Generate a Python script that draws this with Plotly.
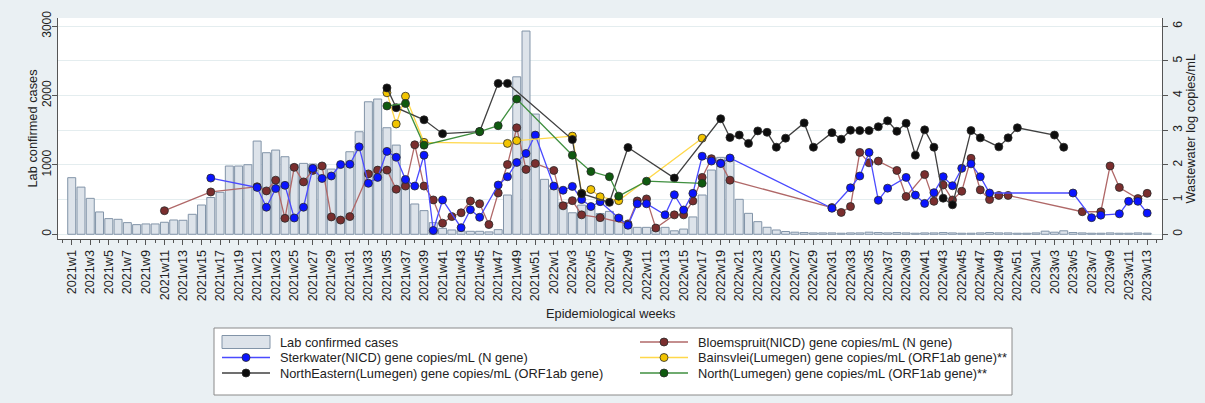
import plotly.graph_objects as go

# epidemiological weeks on the x axis
weeks = []
for year, n in ((2021, 52), (2022, 52), (2023, 13)):
    weeks += [f"{year}w{w}" for w in range(1, n + 1)]

# lab confirmed cases per week (bars, left axis)
cases = [816, 680, 518, 322, 226, 216, 168, 139, 149, 149,
         173, 206, 202, 288, 422, 530, 605, 984, 984, 1003,
         1344, 1176, 1214, 1118, 1000, 1022, 1013, 1010, 940, 975,
         1190, 1478, 1910, 1950, 1536, 1286, 800, 437, 341, 168,
         86, 62, 48, 43, 43, 34, 67, 566, 2270, 2930,
         1733, 792, 648, 460, 310, 420, 420, 300, 330, 270,
         140, 100, 100, 60, 100, 50, 75, 250, 566, 926,
         1109, 1118, 504, 302, 182, 101, 62, 40, 30, 25,
         20, 20, 20, 15, 20, 20, 30, 25, 20, 25,
         20, 15, 20, 20, 25, 20, 15, 15, 20, 25,
         20, 20, 15, 15, 20, 45, 30, 50, 25, 20,
         15, 15, 20, 15, 15, 20, 15]

# wastewater series (right axis, log copies/mL)
bloem_weeks = ["2021w11", "2021w16", "2021w21", "2021w22", "2021w23", "2021w24", "2021w25",
               "2021w26", "2021w27", "2021w28", "2021w29", "2021w30", "2021w31", "2021w33",
               "2021w34", "2021w35", "2021w36", "2021w37", "2021w38", "2021w39", "2021w40",
               "2021w41", "2021w42", "2021w43", "2021w44", "2021w45", "2021w46", "2021w47",
               "2021w48", "2021w49", "2021w50", "2021w51", "2022w1", "2022w2", "2022w3",
               "2022w4", "2022w6", "2022w9", "2022w10", "2022w11", "2022w12", "2022w14",
               "2022w15", "2022w16", "2022w17", "2022w18", "2022w19", "2022w20", "2022w31",
               "2022w32", "2022w33", "2022w34", "2022w35", "2022w36", "2022w38", "2022w39",
               "2022w41", "2022w42", "2022w43", "2022w44", "2022w45", "2022w46", "2022w47",
               "2022w48", "2022w49", "2022w50", "2023w6", "2023w8", "2023w9", "2023w10",
               "2023w12", "2023w13"]
bloem_vals = [0.68, 1.22, 1.37, 1.25, 1.56, 0.46, 1.93,
              1.51, 1.84, 1.97, 0.50, 0.41, 0.51, 1.74,
              1.85, 1.85, 1.30, 1.39, 2.58, 1.39, 0.99,
              0.32, 0.51, 0.62, 0.96, 0.88, 0.28, 1.19,
              2.01, 3.07, 1.87, 2.04, 1.84, 0.82, 0.97,
              0.56, 0.48, 0.30, 0.96, 1.02, 0.18, 0.56,
              0.56, 0.96, 1.64, 2.18, 2.05, 1.56, 0.77,
              0.63, 0.80, 2.36, 2.06, 2.11, 1.84, 1.09,
              1.72, 0.95, 1.42, 0.99, 1.24, 2.19, 1.28,
              1.00, 1.12, 1.12, 0.65, 0.65, 1.97, 1.35,
              1.03, 1.18]

sterk_weeks = ["2021w16", "2021w21", "2021w22", "2021w23", "2021w24", "2021w25", "2021w26",
               "2021w27", "2021w28", "2021w29", "2021w30", "2021w31", "2021w32", "2021w33",
               "2021w34", "2021w35", "2021w36", "2021w37", "2021w38", "2021w39", "2021w40",
               "2021w41", "2021w43", "2021w44", "2021w45", "2021w47", "2021w48", "2021w49",
               "2021w50", "2021w51", "2022w1", "2022w2", "2022w3", "2022w4", "2022w5",
               "2022w6", "2022w8", "2022w9", "2022w10", "2022w11", "2022w13", "2022w14",
               "2022w15", "2022w16", "2022w17", "2022w18", "2022w19", "2022w20", "2022w31",
               "2022w33", "2022w34", "2022w35", "2022w36", "2022w37", "2022w39", "2022w40",
               "2022w41", "2022w42", "2022w43", "2022w44", "2022w45", "2022w46", "2022w47",
               "2022w48", "2023w5", "2023w7", "2023w8", "2023w10", "2023w11", "2023w12",
               "2023w13"]
sterk_vals = [1.62, 1.35, 0.78, 1.32, 1.41, 0.47, 0.78,
              1.90, 1.61, 1.68, 2.01, 2.02, 2.52, 1.47,
              1.64, 2.39, 2.22, 1.58, 1.39, 2.28, 0.11,
              0.99, 0.19, 0.71, 0.49, 1.42, 1.66, 2.07,
              2.33, 2.86, 1.39, 1.27, 1.38, 1.00, 0.80,
              0.94, 0.47, 0.26, 0.88, 0.88, 0.56, 1.14,
              0.70, 1.18, 2.25, 2.11, 2.04, 2.20, 0.75,
              1.34, 1.68, 2.36, 0.98, 1.33, 1.64, 1.13,
              0.89, 1.20, 1.66, 1.40, 1.90, 2.03, 1.66,
              1.19, 1.19, 0.48, 0.55, 0.59, 0.95, 0.95,
              0.61]

bains_weeks = ["2021w35", "2021w36", "2021w37", "2021w39", "2021w48", "2021w49",
               "2022w3", "2022w4", "2022w5", "2022w6", "2022w8", "2022w17"]
bains_vals = [4.08, 3.18, 3.98, 2.65, 2.62, 2.70,
              2.83, 1.18, 1.29, 1.08, 0.97, 2.77]

ne_weeks = ["2021w35", "2021w36", "2021w39", "2021w41", "2021w45", "2021w47", "2021w48",
            "2022w3", "2022w4", "2022w7", "2022w9", "2022w14", "2022w19", "2022w20",
            "2022w21", "2022w22", "2022w23", "2022w24", "2022w25", "2022w26", "2022w28",
            "2022w29", "2022w31", "2022w32", "2022w33", "2022w34", "2022w35", "2022w36",
            "2022w37", "2022w38", "2022w39", "2022w40", "2022w41", "2022w42", "2022w43",
            "2022w44", "2022w46", "2022w47", "2022w49", "2022w50", "2022w51", "2023w3",
            "2023w4"]
ne_vals = [4.22, 3.65, 3.30, 2.90, 2.96, 4.35, 4.35,
           2.73, 1.17, 0.92, 2.50, 1.62, 3.33, 2.79,
           2.86, 2.62, 2.98, 2.94, 2.51, 2.77, 3.21,
           2.51, 2.93, 2.74, 3.00, 2.99, 2.99, 3.10,
           3.27, 2.97, 3.20, 2.28, 3.01, 2.51, 1.04,
           0.85, 2.99, 2.78, 2.52, 2.78, 3.07, 2.86,
           2.51]

north_weeks = ["2021w35", "2021w37", "2021w39", "2021w45", "2021w47", "2021w49",
               "2022w3", "2022w5", "2022w7", "2022w8", "2022w11", "2022w17"]
north_vals = [3.70, 3.77, 2.57, 2.96, 3.13, 3.90,
              2.28, 1.81, 1.66, 1.10, 1.53, 1.47]

pos = {w: i for i, w in enumerate(weeks)}
FONT = "Liberation Sans, Arial, sans-serif"
BAR_FILL, BAR_EDGE, MARKER_EDGE = "#dde3ea", "#8294a8", "#2a2a2a"

# name, weeks, values, line colour, marker colour  (drawing / legend order)
series = [
    ("Bloemspruit(NICD) gene copies/mL (N gene)", bloem_weeks, bloem_vals, "#b06868", "#7a2e2e"),
    ("Sterkwater(NICD) gene copies/mL (N gene)", sterk_weeks, sterk_vals, "#4a4aff", "#0a14ff"),
    ("Bainsvlei(Lumegen) gene copies/mL (ORF1ab gene)**", bains_weeks, bains_vals, "#ffd84a", "#f2c400"),
    ("NorthEastern(Lumegen) gene copies/mL (ORF1ab gene)", ne_weeks, ne_vals, "#404040", "#0d0d0d"),
    ("North(Lumegen) gene copies/mL (ORF1ab gene)**", north_weeks, north_vals, "#3f8f3f", "#0f5a0f"),
]

fig = go.Figure()
fig.add_trace(go.Bar(
    x=list(range(len(weeks))), y=cases, name="Lab confirmed cases", showlegend=False,
    marker=dict(color=BAR_FILL, line=dict(color=BAR_EDGE, width=1)),
))
for name, wk, vals, lc, mc in series:
    fig.add_trace(go.Scatter(
        x=[pos[w] for w in wk], y=vals, name=name, yaxis="y2", showlegend=False,
        mode="lines+markers", line=dict(color=lc, width=1.3),
        marker=dict(size=8, color=mc, line=dict(color=MARKER_EDGE, width=0.8)),
    ))

# plot area in pixels: x 58..1162, y 18..239 -> helpers for paper coordinates
def px(x):
    return (x - 58) / 1104


def py(y):
    return (239 - y) / 221


title_font = dict(family=FONT, size=12.8, color="#222")
shapes = [dict(type="rect", xref="paper", yref="paper", x0=px(214), x1=px(1012),
               y0=py(395), y1=py(328), line=dict(color="#8a8a8a", width=1),
               fillcolor="white", layer="below")]
annotations = [
    dict(text="Lab confirmed cases", x=px(32), y=0.5, textangle=-90),
    dict(text="Wastewater log copies/mL", x=px(1190), y=0.5, textangle=-90),
    dict(text="Epidemiological weeks", x=0.5, y=py(313)),
]

# legend, two columns, filled row by row like the original
entries = [("Lab confirmed cases", None, BAR_FILL)] + [(s[0], s[3], s[4]) for s in series]
col_x = [222, 640]
row_y = [342, 357.5, 373]
for k, (name, lc, mc) in enumerate(entries):
    gx, gy = col_x[k % 2], row_y[k // 2]
    if lc is None:
        shapes.append(dict(type="rect", xref="paper", yref="paper", x0=px(gx), x1=px(gx + 48),
                           y0=py(gy + 6.5), y1=py(gy - 6.5), fillcolor=BAR_FILL,
                           line=dict(color=BAR_EDGE, width=1)))
    else:
        shapes.append(dict(type="line", xref="paper", yref="paper", x0=px(gx), x1=px(gx + 48),
                           y0=py(gy), y1=py(gy), line=dict(color=lc, width=1.3)))
        shapes.append(dict(type="circle", xref="paper", yref="paper",
                           x0=px(gx + 20), x1=px(gx + 28), y0=py(gy + 4), y1=py(gy - 4),
                           fillcolor=mc, line=dict(color=MARKER_EDGE, width=0.8)))
    annotations.append(dict(text=name, x=px(gx + 56), y=py(gy), xanchor="left"))

for a in annotations:
    a.update(xref="paper", yref="paper", showarrow=False, font=title_font)
    a.setdefault("xanchor", "center")
    a.setdefault("yanchor", "middle")

tick_font = dict(family=FONT, size=12, color="#222")

fig.update_layout(
    width=1205, height=403,
    margin=dict(l=58, r=43, t=18, b=164, autoexpand=False),
    paper_bgcolor="#eaf0f3", plot_bgcolor="white",
    font=dict(family=FONT, size=12, color="#222"),
    bargap=0.14,
    showlegend=False,
    xaxis=dict(
        range=[-1.48, 117.6], tickmode="array",
        tickvals=list(range(0, len(weeks), 2)), ticktext=weeks[::2],
        tickangle=-90, tickfont=dict(family=FONT, size=12.6, color="#222"),
        ticks="outside", ticklen=5, tickcolor="#555",
        minor=dict(ticks="outside", ticklen=3, dtick=1, tick0=0, tickcolor="#555"),
        showline=True, linecolor="#555", showgrid=False, zeroline=False,
        automargin=False,
    ),
    yaxis=dict(
        range=[-68, 3118], tickvals=[0, 1000, 2000, 3000], tickangle=-90,
        tickfont=tick_font, ticks="outside", ticklen=5, tickcolor="#555",
        ticklabelstandoff=-4,
        showline=True, linecolor="#555", showgrid=False, zeroline=False,
        automargin=False,
    ),
    yaxis2=dict(
        overlaying="y", side="right", range=[-0.136, 6.235], tickvals=list(range(7)),
        tickangle=-90, tickfont=tick_font, ticks="outside", ticklen=5, tickcolor="#555",
        showline=True, linecolor="#555", showgrid=True, gridcolor="#e4edef", gridwidth=1,
        zeroline=False, automargin=False,
    ),
    shapes=shapes,
    annotations=annotations,
)

# the page is photographed from its top-left corner, so drop the default body margin
fig.write_html("out.html", config={"displayModeBar": False},
               post_script="document.body.style.margin = '0';")
